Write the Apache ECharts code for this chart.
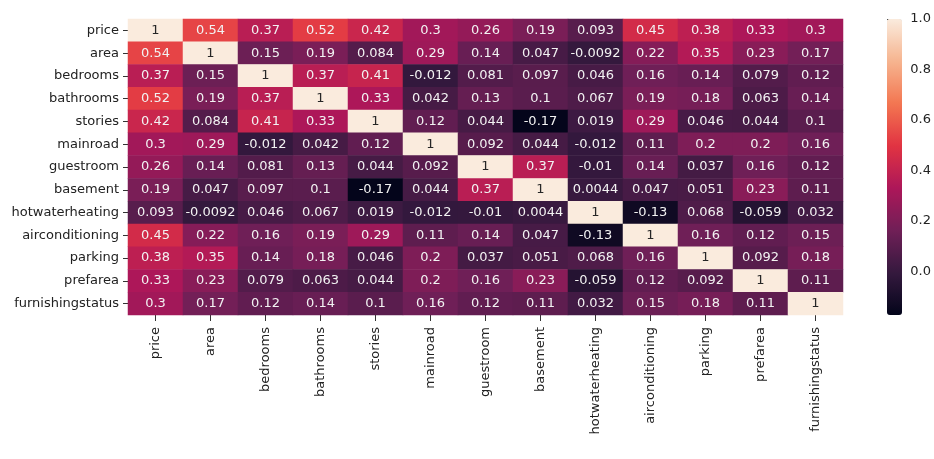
<!DOCTYPE html>
<html>
<head>
<meta charset="utf-8">
<script src="https://cdn.jsdelivr.net/npm/echarts@6/dist/echarts.min.js"></script>
<style>
html,body{margin:0;padding:0;background:#fff;}
#chart{width:934px;height:459px;}
</style>
</head>
<body>
<div id="chart"></div>
<script>
var labels = ['price','area','bedrooms','bathrooms','stories','mainroad','guestroom','basement','hotwaterheating','airconditioning','parking','prefarea','furnishingstatus'];

var price            = [1, 0.54, 0.37, 0.52, 0.42, 0.3, 0.26, 0.19, 0.093, 0.45, 0.38, 0.33, 0.3];
var area             = [0.54, 1, 0.15, 0.19, 0.084, 0.29, 0.14, 0.047, -0.0092, 0.22, 0.35, 0.23, 0.17];
var bedrooms         = [0.37, 0.15, 1, 0.37, 0.41, -0.012, 0.081, 0.097, 0.046, 0.16, 0.14, 0.079, 0.12];
var bathrooms        = [0.52, 0.19, 0.37, 1, 0.33, 0.042, 0.13, 0.1, 0.067, 0.19, 0.18, 0.063, 0.14];
var stories          = [0.42, 0.084, 0.41, 0.33, 1, 0.12, 0.044, -0.17, 0.019, 0.29, 0.046, 0.044, 0.1];
var mainroad         = [0.3, 0.29, -0.012, 0.042, 0.12, 1, 0.092, 0.044, -0.012, 0.11, 0.2, 0.2, 0.16];
var guestroom        = [0.26, 0.14, 0.081, 0.13, 0.044, 0.092, 1, 0.37, -0.01, 0.14, 0.037, 0.16, 0.12];
var basement         = [0.19, 0.047, 0.097, 0.1, -0.17, 0.044, 0.37, 1, 0.0044, 0.047, 0.051, 0.23, 0.11];
var hotwaterheating  = [0.093, -0.0092, 0.046, 0.067, 0.019, -0.012, -0.01, 0.0044, 1, -0.13, 0.068, -0.059, 0.032];
var airconditioning  = [0.45, 0.22, 0.16, 0.19, 0.29, 0.11, 0.14, 0.047, -0.13, 1, 0.16, 0.12, 0.15];
var parking          = [0.38, 0.35, 0.14, 0.18, 0.046, 0.2, 0.037, 0.051, 0.068, 0.16, 1, 0.092, 0.18];
var prefarea         = [0.33, 0.23, 0.079, 0.063, 0.044, 0.2, 0.16, 0.23, -0.059, 0.12, 0.092, 1, 0.11];
var furnishingstatus = [0.3, 0.17, 0.12, 0.14, 0.1, 0.16, 0.12, 0.11, 0.032, 0.15, 0.18, 0.11, 1];

var rows = [price, area, bedrooms, bathrooms, stories, mainroad, guestroom, basement, hotwaterheating, airconditioning, parking, prefarea, furnishingstatus];

var cbarTicks = [0, 0.2, 0.4, 0.6, 0.8, 1.0];
var cbarMin = -0.1726;
var cbarMax = 1.0;

var rocket = ['#03051a', '#35193e', '#701f57', '#ad1759', '#e13342', '#f37651', '#f6b48f', '#faebdd'];

var data = [];
rows.forEach(function (row, r) {
  row.forEach(function (v, c) { data.push([c, r, v]); });
});

var FONT = 'DejaVu Sans';
var chart = echarts.init(document.getElementById('chart'));
chart.setOption({
  animation: false,
  backgroundColor: '#fff',
  textStyle: { fontFamily: FONT },
  grid: [
    { left: 128, top: 19, width: 715, height: 296 },
    { left: 887, top: 19, width: 15, height: 296 }
  ],
  xAxis: [
    {
      type: 'category', data: labels, gridIndex: 0,
      axisLine: { show: false },
      axisTick: { show: true, alignWithLabel: true, length: 6, lineStyle: { color: '#333', width: 1 } },
      axisLabel: { rotate: 90, margin: 12, fontSize: 13, color: '#222', fontFamily: FONT, interval: 0 },
      splitLine: { show: false }
    },
    { type: 'value', gridIndex: 1, show: false, min: 0, max: 1 }
  ],
  yAxis: [
    {
      type: 'category', data: labels, gridIndex: 0, inverse: true,
      axisLine: { show: false },
      axisTick: { show: true, alignWithLabel: true, length: 5, lineStyle: { color: '#333', width: 1 } },
      axisLabel: { margin: 9, fontSize: 13, color: '#222', fontFamily: FONT, interval: 0 },
      splitLine: { show: false }
    },
    {
      type: 'value', gridIndex: 1, position: 'right', min: cbarMin, max: cbarMax,
      axisLine: { show: false },
      splitLine: { show: false },
      axisTick: { show: true, length: 4, customValues: cbarTicks, lineStyle: { color: '#333' } },
      axisLabel: { show: true, margin: 9, fontSize: 13, color: '#222', fontFamily: FONT,
        customValues: cbarTicks,
        formatter: function (v) { return Number(v).toFixed(1); } }
    }
  ],
  visualMap: {
    type: 'continuous',
    min: cbarMin, max: cbarMax,
    calculable: false,
    seriesIndex: 0,
    orient: 'vertical',
    left: 887, top: 19,
    itemWidth: 15, itemHeight: 296,
    padding: 0,
    text: null,
    showLabel: false,
    inRange: { color: rocket }
  },
  series: [{
    type: 'heatmap',
    xAxisIndex: 0, yAxisIndex: 0,
    data: data,
    label: {
      show: true,
      fontSize: 13,
      fontFamily: FONT,
      formatter: function (p) { return String(p.value[2]); },
      rich: {}
    },
    itemStyle: { borderWidth: 0 },
    emphasis: { disabled: true },
    labelLayout: function (p) { return {}; }
  }]
});
// label colors: dark text on light (diagonal) cells, light text elsewhere
var opt = chart.getOption();
var styled = data.map(function (d) {
  return { value: d, label: { color: d[2] > 0.8 ? '#262626' : '#f2f2f2' } };
});
chart.setOption({ series: [{ data: styled }] });
</script>
</body>
</html>
